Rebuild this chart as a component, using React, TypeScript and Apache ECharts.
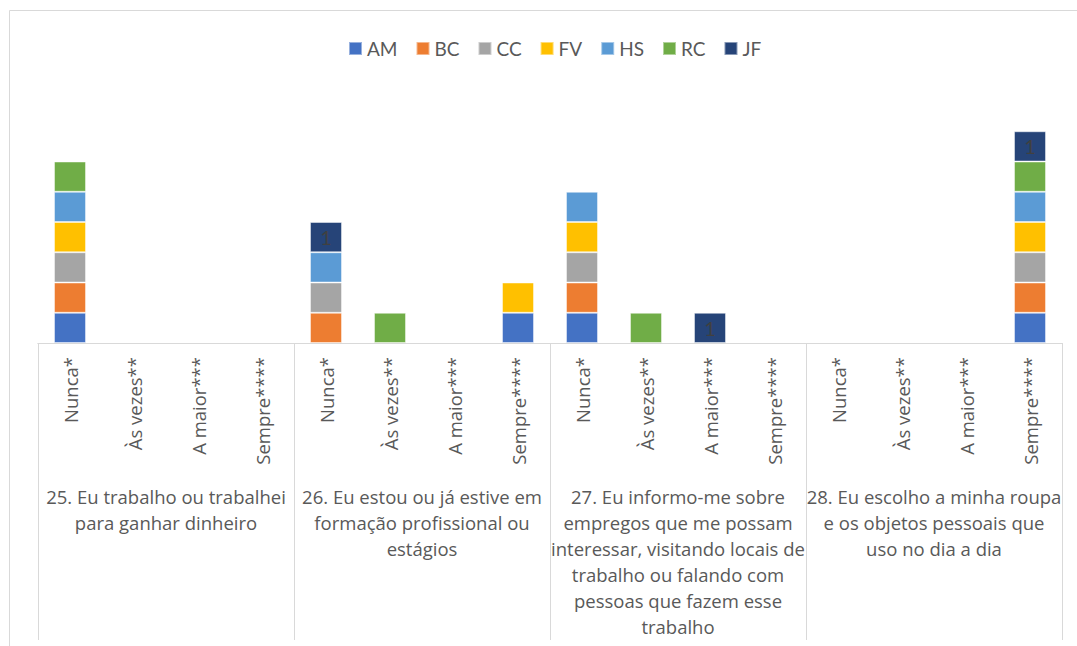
import React, { useEffect, useRef } from "react";
import * as echarts from "echarts";

const subCategories = ["Nunca*", "Às vezes**", "A maior***", "Sempre****"];
const groups = [
  "25. Eu trabalho ou trabalhei\npara ganhar dinheiro",
  "26. Eu estou ou já estive em\nformação profissional ou\nestágios",
  "27. Eu informo-me sobre\nempregos que me possam\ninteressar, visitando locais de\ntrabalho ou falando com\npessoas que fazem esse\ntrabalho",
  "28. Eu escolho a minha roupa\ne os objetos pessoais que\nuso no dia a dia",
];
const categories = [...subCategories, ...subCategories, ...subCategories, ...subCategories];

const seriesNames = ["AM", "BC", "CC", "FV", "HS", "RC", "JF"];
const colors = ["#4472C4", "#ED7D31", "#A5A5A5", "#FFC000", "#5B9BD5", "#70AD47", "#264478"];

const AM = [1, 0, 0, 0, 0, 0, 0, 1, 1, 0, 0, 0, 0, 0, 0, 1];
const BC = [1, 0, 0, 0, 1, 0, 0, 0, 1, 0, 0, 0, 0, 0, 0, 1];
const CC = [1, 0, 0, 0, 1, 0, 0, 0, 1, 0, 0, 0, 0, 0, 0, 1];
const FV = [1, 0, 0, 0, 0, 0, 0, 1, 1, 0, 0, 0, 0, 0, 0, 1];
const HS = [1, 0, 0, 0, 1, 0, 0, 0, 1, 0, 0, 0, 0, 0, 0, 1];
const RC = [1, 0, 0, 0, 0, 1, 0, 0, 0, 1, 0, 0, 0, 0, 0, 1];
const JF = [0, 0, 0, 0, 1, 0, 0, 0, 0, 0, 1, 0, 0, 0, 0, 1];
const seriesData = [AM, BC, CC, FV, HS, RC, JF];

const FONT = "'Open Sans', Lato, sans-serif";
const LEGEND_FONT = "Lato, 'Open Sans', sans-serif";
const TEXT = "#595959";
const LINE = "#D9D9D9";

export default function App() {
  const ref = useRef<HTMLDivElement>(null);
  useEffect(() => {
    if (!ref.current) return;
    const chart = echarts.init(ref.current, null, { renderer: "svg" });
    chart.setOption({
      animation: false,
      backgroundColor: "#ffffff",
      textStyle: { fontFamily: FONT },
      legend: {
        top: 34,
        left: 343,
        itemWidth: 13,
        itemHeight: 13,
        itemGap: 18,
        icon: "rect",
        textStyle: { color: TEXT, fontSize: 19, fontFamily: LEGEND_FONT },
        data: seriesNames,
      },
      graphic: [
        {
          type: "rect",
          shape: { x: 9.5, y: 10.5, width: 1200, height: 800 },
          style: { fill: "none", stroke: LINE, lineWidth: 1 },
          silent: true,
        },
      ],
      grid: { left: 38, right: 15, top: 101, bottom: 303, containLabel: false },
      xAxis: [
        {
          type: "category",
          data: categories,
          position: "bottom",
          axisLine: { show: true, lineStyle: { color: LINE, width: 1 } },
          axisTick: { show: false },
          axisLabel: {
            rotate: 90,
            interval: 0,
            margin: 14,
            color: TEXT,
            fontSize: 18.5,
            fontFamily: FONT,
          },
        },
        {
          type: "category",
          data: groups,
          position: "bottom",
          axisLine: { show: true, lineStyle: { color: LINE, width: 1 } },
          axisTick: { show: true, length: 297, lineStyle: { color: LINE, width: 1 } },
          axisLabel: {
            interval: 0,
            margin: 140,
            color: TEXT,
            fontSize: 18.5,
            lineHeight: 26,
            align: "center",
            verticalAlign: "top",
            fontFamily: FONT,
          },
        },
      ],
      yAxis: {
        type: "value",
        min: 0,
        max: 8,
        show: false,
        splitLine: { show: false },
      },
      series: seriesNames.map((name, i) => ({
        name,
        type: "bar",
        stack: "total",
        xAxisIndex: 0,
        barWidth: 32,
        itemStyle: { color: colors[i], borderColor: "rgba(255,255,255,0.45)", borderWidth: 1 },
        label:
          name === "JF"
            ? { show: true, position: "inside", color: "#404040", fontSize: 20, fontFamily: LEGEND_FONT }
            : { show: false },
        data: seriesData[i].map((v) => (v ? v : "-")),
      })),
    });
    return () => chart.dispose();
  }, []);
  return (
    <div
      ref={ref}
      style={{ position: "fixed", left: 0, top: 0, width: 1077, height: 646 }}
    />
  );
}
